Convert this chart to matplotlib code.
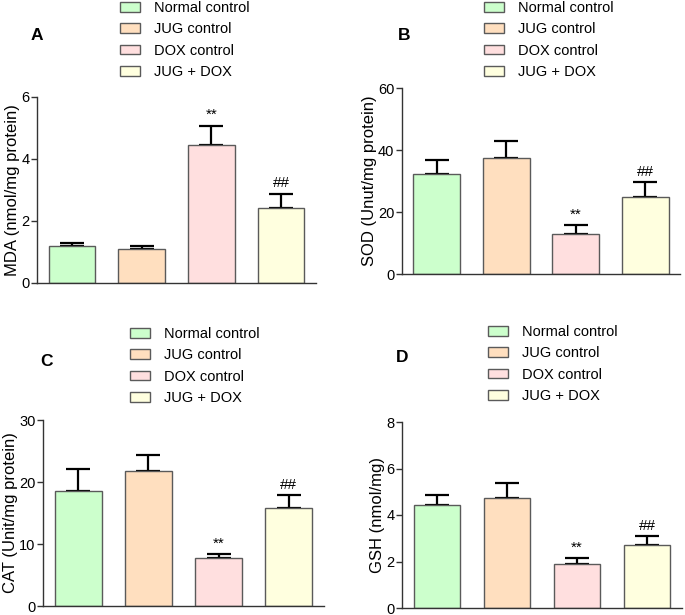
import matplotlib
matplotlib.use("Agg")
import matplotlib.pyplot as plt
from matplotlib.patches import Patch

plt.rcParams['font.family'] = ['Liberation Sans', 'DejaVu Sans']

groups = ["Normal control", "JUG control", "DOX control", "JUG + DOX"]
colors = ["#ccffcc", "#ffdfbf", "#ffdfdf", "#ffffdf"]

mda_mean = [1.18, 1.10, 4.46, 2.42]
mda_err = [0.12, 0.09, 0.62, 0.46]
sod_mean = [32.1, 37.4, 12.9, 24.7]
sod_err = [4.6, 5.4, 3.0, 4.9]
cat_mean = [18.6, 21.85, 7.7, 15.75]
cat_err = [3.55, 2.55, 0.65, 2.1]
gsh_mean = [4.44, 4.73, 1.91, 2.70]
gsh_err = [0.42, 0.63, 0.23, 0.40]
marks = ["", "", "**", "##"]

panels = [
    dict(letter="A", mean=mda_mean, err=mda_err, ymax=6, ticks=[0, 2, 4, 6],
         ylabel="MDA (nmol/mg protein)", ax=(37, 316, 97, 283),
         leg=(120, 1), let=(31, 35)),
    dict(letter="B", mean=sod_mean, err=sod_err, ymax=60, ticks=[0, 20, 40, 60],
         ylabel="SOD (Unut/mg protein)", ax=(402, 680, 88, 274),
         leg=(484, 1), let=(398, 35)),
    dict(letter="C", mean=cat_mean, err=cat_err, ymax=30, ticks=[0, 10, 20, 30],
         ylabel="CAT (Unit/mg protein)", ax=(43, 324, 420, 606),
         leg=(130, 327), let=(40, 362)),
    dict(letter="D", mean=gsh_mean, err=gsh_err, ymax=8, ticks=[0, 2, 4, 6, 8],
         ylabel="GSH (nmol/mg)", ax=(402, 682, 422, 608),
         leg=(488, 325), let=(396, 358)),
]

W, H = 685, 615
fig = plt.figure(figsize=(W / 100, H / 100), dpi=100)

for p in panels:
    l, r, t, b = p["ax"]
    ax = fig.add_axes([l / W, 1 - b / H, (r - l) / W, (b - t) / H])
    x = range(len(groups))
    ax.bar(x, p["mean"], width=0.67, color=colors, edgecolor="#5a5a5a",
           linewidth=1.0, zorder=2)
    ax.errorbar(x, p["mean"], yerr=[[0] * 4, p["err"]], fmt="none",
                ecolor="black", elinewidth=1.6, capsize=8.6, capthick=1.6, zorder=1)
    for xi, m, e, s in zip(x, p["mean"], p["err"], marks):
        if s:
            ax.annotate(s, (xi, m + e), xytext=(0, 4.5), textcoords="offset points",
                        ha="center", va="baseline", fontsize=11)
    ax.set_xlim(-0.5, 3.5)
    ax.set_ylim(0, p["ymax"])
    ax.set_yticks(p["ticks"])
    ax.set_xticks([])
    ax.spines["top"].set_visible(False)
    ax.spines["right"].set_visible(False)
    for sp in ("left", "bottom"):
        ax.spines[sp].set_linewidth(1.0)
        ax.spines[sp].set_color("#333333")
    ax.tick_params(axis="y", direction="out", length=4, width=1.0,
                   labelsize=10.5, colors="#333333", labelcolor="black", pad=1.5)
    ax.set_ylabel(p["ylabel"], fontsize=12, labelpad=1)

    handles = [Patch(facecolor=c, edgecolor="#5a5a5a", linewidth=1.0) for c in colors]
    lx, ly = p["leg"]
    fig.legend(handles, groups, loc="upper left",
               bbox_to_anchor=(lx / W, 1 - ly / H), frameon=False,
               fontsize=10.5, borderpad=0, borderaxespad=0,
               handlelength=1.35, handleheight=0.65, handletextpad=0.95,
               labelspacing=0.5)
    fig.text(p["let"][0] / W, 1 - p["let"][1] / H, p["letter"],
             fontsize=12.5, fontweight="bold", ha="left", va="center")

fig.savefig("out.png", dpi=100)
